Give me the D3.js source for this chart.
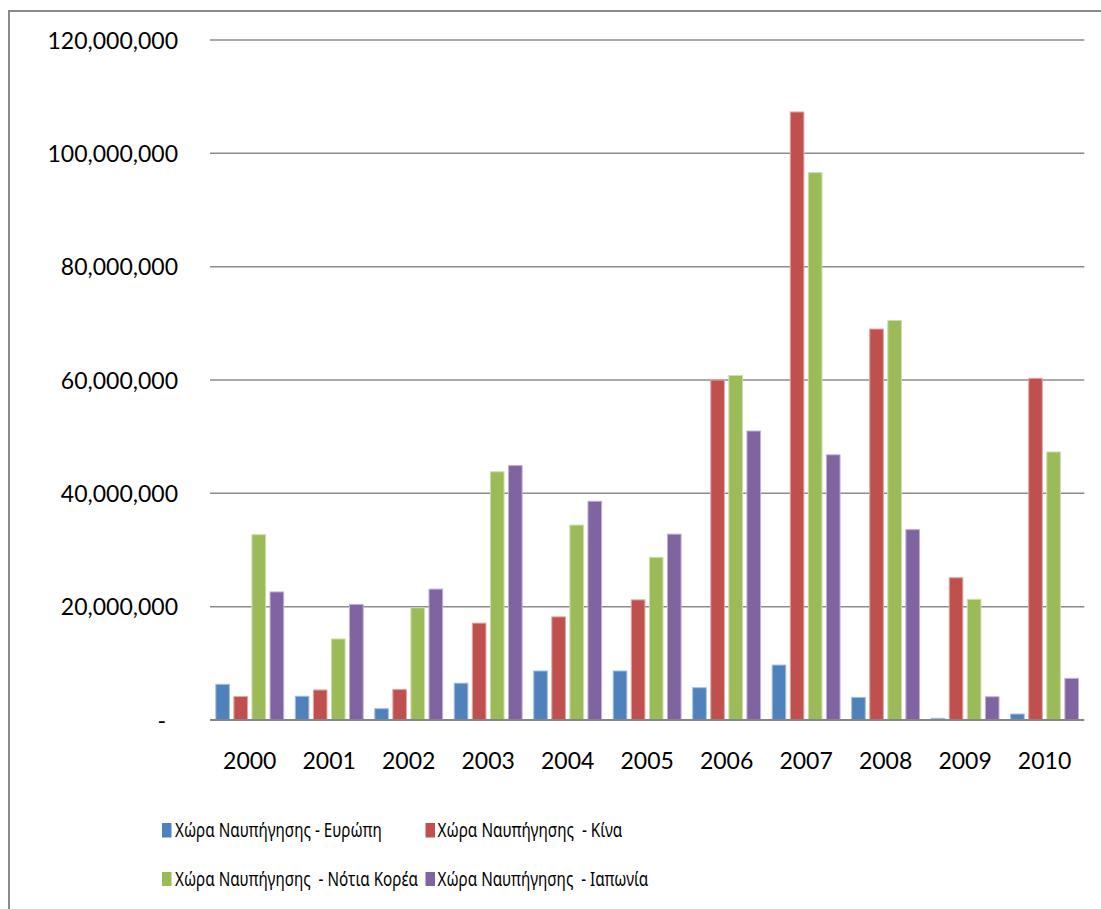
<!DOCTYPE html>
<html lang="el">
<head>
    <meta charset="UTF-8">
    <title>Χώρα Ναυπήγησης</title>
    <script src="https://cdn.jsdelivr.net/npm/d3@7"></script>
    <style>
        body{
            margin: 0;
            background: #fff;
        }
        text{
            font-family: Lato, "Open Sans", sans-serif;
            fill: #000;
            white-space: pre;
        }
        .legend text{
            font-family: "Noto Sans", "Open Sans", sans-serif;
        }
    </style>
</head>
<body>
<svg id="main" width="1101" height="909"></svg>
<script>

    const years = ['2000','2001','2002','2003','2004','2005','2006','2007','2008','2009','2010'];

    const seriesNames = [
        'Χώρα Ναυπήγησης - Ευρώπη',
        'Χώρα Ναυπήγησης  - Κίνα',
        'Χώρα Ναυπήγησης  - Νότια Κορέα',
        'Χώρα Ναυπήγησης  - Ιαπωνία'
    ];

    const europe = [6300000, 4200000, 2000000, 6500000, 8650000, 8650000, 5700000, 9700000, 4000000, 300000, 1060000];
    const china  = [4150000, 5300000, 5400000, 17100000, 18200000, 21200000, 60000000, 107300000, 69000000, 25100000, 60300000];
    const korea  = [32700000, 14300000, 19800000, 43800000, 34400000, 28700000, 60800000, 96600000, 70500000, 21300000, 47300000];
    const japan  = [22600000, 20400000, 23100000, 44900000, 38600000, 32800000, 51000000, 46800000, 33600000, 4100000, 7350000];

    const yTicks = [0, 20000000, 40000000, 60000000, 80000000, 100000000, 120000000];

    const colors = ['#4F81BD', '#C0504D', '#9BBB59', '#8064A2'];
    const borders = ['#A7C0DE', '#E0A8A6', '#CDDDAC', '#BFB1D0'];

    const allSeries = [europe, china, korea, japan];
    const data = years.map((y, i) => ({year: y, values: allSeries.map(s => s[i])}));

    const svg = d3.select('svg#main');

    // plot area
    const plot = {left: 210, right: 1084.3, top: 40, bottom: 720};

    const x0 = d3.scaleBand()
        .domain(years)
        .range([plot.left, plot.right])
        .padding(0);

    const groupW = 68.9;
    const x1 = d3.scaleBand()
        .domain(d3.range(4))
        .range([(x0.bandwidth() - groupW) / 2, (x0.bandwidth() + groupW) / 2])
        .paddingInner(0.19);

    const y = d3.scaleLinear()
        .domain([0, 120000000])
        .range([plot.bottom, plot.top]);

    // outer frame
    svg.append('rect')
        .attr('x', 9).attr('y', 11)
        .attr('width', 1110).attr('height', 920)
        .attr('fill', 'none')
        .attr('stroke', '#8a8a8a')
        .attr('stroke-width', 2);

    // gridlines
    svg.append('g')
        .selectAll('line')
        .data(yTicks.slice(1))
        .enter()
        .append('line')
        .attr('x1', plot.left).attr('x2', plot.right)
        .attr('y1', d => y(d)).attr('y2', d => y(d))
        .attr('stroke', '#8c8c8c')
        .attr('stroke-width', 1.5);

    // y labels
    const fmt = d3.format(',');
    svg.append('g')
        .selectAll('text')
        .data(yTicks)
        .enter()
        .append('text')
        .attr('x', d => d === 0 ? 166 : 178)
        .attr('y', d => y(d) + 8.5)
        .attr('text-anchor', 'end')
        .style('font-size', '23px')
        .text(d => d === 0 ? '-' : fmt(d));

    // bars
    const groups = svg.append('g')
        .selectAll('g')
        .data(data)
        .enter()
        .append('g')
        .attr('transform', d => `translate(${x0(d.year)},0)`);

    groups.selectAll('rect')
        .data(d => d.values)
        .enter()
        .append('rect')
        .attr('x', (d, i) => x1(i) + 0.5)
        .attr('y', d => y(d))
        .attr('width', x1.bandwidth() - 1)
        .attr('height', d => plot.bottom - y(d))
        .attr('fill', (d, i) => colors[i])
        .attr('stroke', (d, i) => borders[i])
        .attr('stroke-width', 1);

    // baseline
    svg.append('line')
        .attr('x1', plot.left).attr('x2', plot.right)
        .attr('y1', plot.bottom).attr('y2', plot.bottom)
        .attr('stroke', '#868686')
        .attr('stroke-width', 2);

    // x labels
    svg.append('g')
        .selectAll('text')
        .data(years)
        .enter()
        .append('text')
        .attr('x', d => x0(d) + x0.bandwidth() / 2)
        .attr('y', 769)
        .attr('text-anchor', 'middle')
        .style('font-size', '23px')
        .text(d => d);

    // legend (text squeezed horizontally like the original)
    const legendPos = [
        {mx: 162, my: 823, mh: 14.5, tx: 175, ty: 837, tw: 207},
        {mx: 425.5, my: 823, mh: 14.5, tx: 437.5, ty: 837, tw: 185},
        {mx: 162, my: 872, mh: 14, tx: 175, ty: 886, tw: 243},
        {mx: 425.5, my: 872, mh: 14, tx: 437.5, ty: 886, tw: 211}
    ];

    const legend = svg.append('g')
        .attr('class', 'legend')
        .selectAll('g')
        .data(seriesNames)
        .enter()
        .append('g');

    legend.append('rect')
        .attr('x', (d, i) => legendPos[i].mx)
        .attr('y', (d, i) => legendPos[i].my)
        .attr('width', 9.5)
        .attr('height', (d, i) => legendPos[i].mh)
        .attr('fill', (d, i) => colors[i]);

    legend.append('text')
        .style('font-size', '20px')
        .text(d => d)
        .each(function(d, i) {
            const p = legendPos[i];
            const w = this.getComputedTextLength();
            d3.select(this).attr('transform', `translate(${p.tx},${p.ty}) scale(${p.tw / w},1)`);
        });

</script>
</body>
</html>
